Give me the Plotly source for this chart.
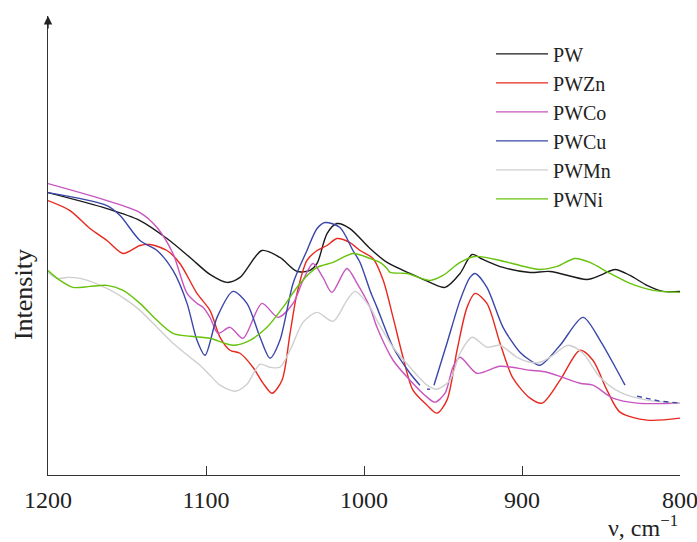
import plotly.graph_objects as go

# ---- data (wavenumber, cm^-1 ; intensity, a.u.) ----
pw_nu = [1200, 1162.7, 1141.8, 1124.7, 1110.1, 1097.5, 1086.7, 1078.5, 1064.6, 1053.2, 1042.4, 1034.2,
         1029.7, 1023.4, 1017.1, 1008.9, 996.2, 985.4, 970.9, 958.2, 948.7, 939.2, 931.6, 924.7, 912,
         894.9, 882.3, 858.9, 850.6, 841.1, 831.6, 820.9, 810.8, 800]
pw_i = [2.81, 2.65, 2.53, 2.35, 2.16, 1.99, 1.91, 1.96, 2.23, 2.16, 2.02, 2.03, 2.10, 2.40, 2.50, 2.45,
        2.25, 2.11, 2.00, 1.91, 1.86, 2.00, 2.19, 2.14, 2.06, 2.01, 2.02, 1.94, 1.98, 2.04, 1.98, 1.88,
        1.82, 1.82]

pwzn_nu = [1200, 1186.1, 1173.4, 1162.7, 1152.5, 1141.8, 1135.4, 1124.7, 1116.5, 1105.7, 1097.5, 1091.1,
           1084.8, 1078.5, 1070.3, 1063.9, 1058.2, 1051.9, 1046.8, 1042.4, 1036.1, 1029.7, 1023.4, 1017.1,
           1008.9, 1002.5, 994.3, 987.8, 981.6, 975.3, 969, 960.1, 953.8, 947.5, 941.1, 934.8, 929.7,
           922.2, 913.9, 905.7, 894.9, 887.3, 875.9, 863.3, 855.1, 846.2, 838, 820.9, 800]
pwzn_i = [2.73, 2.63, 2.45, 2.33, 2.20, 2.28, 2.29, 2.23, 2.10, 1.80, 1.63, 1.36, 1.23, 1.20, 1.06, 0.90,
          0.80, 0.93, 1.40, 1.80, 2.13, 2.23, 2.28, 2.35, 2.31, 2.23, 2.15, 1.93, 1.56, 1.16, 0.83, 0.68,
          0.60, 0.73, 1.23, 1.66, 1.80, 1.70, 1.30, 0.95, 0.75, 0.70, 0.93, 1.23, 1.13, 0.83, 0.61, 0.53,
          0.55]

pwco_nu = [1200, 1162.7, 1141.8, 1131, 1120.9, 1112, 1105.7, 1101.9, 1097.5, 1092.4, 1084.8, 1076.6,
           1064.6, 1054.4, 1044.9, 1038.6, 1032.3, 1026, 1020.3, 1010.8, 1004.4, 996.2, 991.8, 981.6,
           970.9, 960.1, 955.1, 948.7, 943.7, 939.2, 928.5, 913.9, 894.9, 884.2, 863.3, 855.1, 842.4,
           827.2, 800]
pwco_i = [2.90, 2.73, 2.61, 2.46, 2.20, 1.80, 1.70, 1.66, 1.56, 1.40, 1.46, 1.35, 1.70, 1.56, 1.70, 1.93,
          2.10, 1.96, 1.81, 2.05, 1.90, 1.66, 1.46, 1.13, 0.93, 0.76, 0.71, 0.80, 1.06, 1.16, 1.00, 1.07,
          1.03, 1.01, 0.90, 0.88, 0.75, 0.70, 0.70]

# None marks the breaks that the original trace shows
pwcu_nu = [1200, 1162.7, 1154.4, 1141.8, 1131, 1120.9, 1112, 1105.7, 1100.6, 1093, 1082.9, 1074.1,
           1065.8, 1059.5, 1053.2, 1044.9, 1036.1, 1029.7, 1024.7, 1015.2, 1007, 1002.5, 996.2, 991.8,
           981.6, 970.9, 964.6, None, 960.1, 958.2, None, 955.7, 947.5, 939.2, 932.9, 929.7, 922.2, 912,
           901.3, 894.9, 888.6, 875.9, 861.4, 850.6, 839.9, 834.8]
pwcu_i = [2.81, 2.68, 2.58, 2.33, 2.23, 2.03, 1.70, 1.33, 1.18, 1.56, 1.82, 1.70, 1.36, 1.15, 1.33, 1.90,
          2.23, 2.45, 2.51, 2.46, 2.23, 2.11, 1.83, 1.66, 1.26, 1.00, 0.88, None, 0.84, 0.84, None, 0.88,
          1.30, 1.73, 1.96, 2.00, 1.86, 1.46, 1.21, 1.13, 1.08, 1.28, 1.56, 1.33, 1.03, 0.88]
pwcu_tail_nu = [827.2, 812.7, 800]
pwcu_tail_i = [0.77, 0.72, 0.70]

pwmn_nu = [1200, 1194.3, 1188, 1179.7, 1162.7, 1150, 1141.8, 1131, 1120.9, 1110.1, 1103.8, 1097.5,
           1091.1, 1081.6, 1074.1, 1065.8, 1059.5, 1053.2, 1046.8, 1038.6, 1029.7, 1019.6, 1010.8,
           1005.7, 996.2, 991.8, 981.6, 970.9, 960.1, 953.8, 945.6, 939.2, 931.6, 922.2, 913.9, 903.2,
           894.9, 888.6, 880.4, 870.9, 861.4, 850.6, 838, 820.9, 800]
pwmn_i = [2.01, 1.95, 1.96, 1.95, 1.85, 1.73, 1.63, 1.46, 1.30, 1.16, 1.08, 0.98, 0.88, 0.82, 0.89, 1.09,
          1.06, 1.06, 1.23, 1.51, 1.61, 1.52, 1.73, 1.82, 1.66, 1.53, 1.26, 1.06, 0.88, 0.84, 0.93, 1.20,
          1.36, 1.26, 1.28, 1.16, 1.11, 1.11, 1.18, 1.28, 1.20, 0.96, 0.81, 0.73, 0.70]

pwni_nu = [1200, 1192.4, 1184.2, 1173.4, 1162.7, 1152.5, 1141.8, 1131, 1120.9, 1110.1, 1097.5, 1082.9,
           1072.2, 1061.4, 1051.3, 1040.5, 1029.7, 1019.6, 1007, 996.2, 989.9, 985.4, 983.5, 972.8, 958.2,
           950, 939.2, 929.7, 913.9, 901.3, 888.6, 877.8, 866.5, 857, 844.3, 831.6, 817.1, 800]
pwni_i = [2.03, 1.93, 1.86, 1.87, 1.88, 1.83, 1.70, 1.53, 1.40, 1.37, 1.35, 1.28, 1.33, 1.46, 1.66, 1.90,
          2.06, 2.11, 2.20, 2.15, 2.11, 2.05, 2.01, 2.00, 1.93, 1.98, 2.11, 2.17, 2.13, 2.08, 2.04, 2.07,
          2.15, 2.11, 2.00, 1.90, 1.83, 1.81]

tick_vals = [1200, 1100, 1000, 900, 800]
tick_text = ["1200", "1100", "1000", "900", "800"]

series = [
    ("PW", pw_nu, pw_i, "#1a1a1a"),
    ("PWZn", pwzn_nu, pwzn_i, "#e8281e"),
    ("PWCo", pwco_nu, pwco_i, "#c855c0"),
    ("PWCu", pwcu_nu, pwcu_i, "#3a46a8"),
    ("PWMn", pwmn_nu, pwmn_i, "#cfcfcf"),
    ("PWNi", pwni_nu, pwni_i, "#66c20a"),
]

FONT = "Liberation Serif, Times New Roman, serif"
Y_TOP = 4.58

fig = go.Figure()
for name, xs, ys, col in series:
    fig.add_trace(go.Scatter(
        x=xs, y=ys, name=name, mode="lines",
        line=dict(color=col, width=1.4, shape="spline", smoothing=0.8),
        connectgaps=False,
    ))
fig.add_trace(go.Scatter(
    x=pwcu_tail_nu, y=pwcu_tail_i, mode="lines", showlegend=False,
    line=dict(color="#3a46a8", width=1.4, dash="5px,4px"),
))

fig.update_layout(
    width=697, height=542,
    margin=dict(l=48, r=17, t=16, b=67, autoexpand=False),
    paper_bgcolor="white", plot_bgcolor="white",
    font=dict(family=FONT, color="#222", size=22),
    showlegend=True,
    legend=dict(
        x=0.701, y=0.96, xanchor="left", yanchor="top",
        font=dict(family=FONT, size=20, color="#222"),
        bgcolor="rgba(0,0,0,0)", itemwidth=52, tracegroupgap=0,
    ),
    xaxis=dict(
        range=[1200, 800], showgrid=False, zeroline=False, automargin=False,
        showline=True, linecolor="#333", linewidth=1.4,
        ticks="inside", ticklen=9, tickwidth=1.3, tickcolor="#333",
        tickvals=tick_vals, ticktext=tick_text,
        tickfont=dict(family=FONT, size=24, color="#222"),
        ticklabelstandoff=3, ticklabeloverflow="allow",
    ),
    yaxis=dict(
        range=[-0.02, Y_TOP], showgrid=False, zeroline=False, automargin=False,
        showline=True, linecolor="#333", linewidth=1.4,
        showticklabels=False, ticks="",
    ),
)

# arrow head on the y axis
fig.add_annotation(
    x=1200, y=Y_TOP, xref="x", yref="y", ax=0, ay=14, text="",
    showarrow=True, arrowhead=2, arrowsize=1.2, arrowwidth=1.4, arrowcolor="#222",
)
# y-axis title
fig.add_annotation(
    text="Intensity", xref="paper", yref="paper", x=0, y=0.392, xshift=-25,
    xanchor="center", yanchor="middle",
    showarrow=False, textangle=-90, font=dict(family=FONT, size=26, color="#222"),
)
# x-axis title
fig.add_annotation(
    text="ν, cm<sup>−1</sup>", xref="paper", yref="paper", x=1, y=0, yshift=-51,
    xanchor="right", yanchor="middle", showarrow=False,
    font=dict(family=FONT, size=24, color="#222"),
)

# remove the default page margin so the 697x542 figure fills the window exactly
fig.write_html(
    "out.html",
    config={"displayModeBar": False},
    post_script="document.body.style.margin='0';document.body.style.overflow='hidden';",
)
